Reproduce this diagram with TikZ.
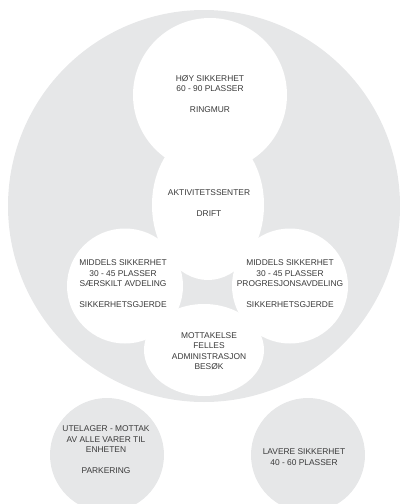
\documentclass[tikz,border=0pt]{standalone}
\usepackage{fontspec}
\setmainfont{Liberation Sans}
\definecolor{zonegrey}{HTML}{E6E7E8}
\definecolor{zonetext}{HTML}{3A3A3A}
\tikzset{zonelabel/.style={align=center,text=zonetext,inner sep=0pt,font=\fontsize{8.4}{10.5}\selectfont}}

\begin{document}
\begin{tikzpicture}[x=1pt,y=-1pt]
	\useasboundingbox (0,0) rectangle (400,504);
	% outer area
	\fill[zonegrey] (204,206) circle[radius=196pt];
	% main building zones
	\fill[white] (210,95) circle[radius=77pt];
	\fill[white] (208,205) ellipse[x radius=56pt,y radius=75pt];
	\fill[white] (125,286) ellipse[x radius=58pt,y radius=57.5pt];
	\fill[white] (290,286) ellipse[x radius=58pt,y radius=57.5pt];
	\fill[white] (204,350) ellipse[x radius=60pt,y radius=46pt];
	% separate units
	\fill[zonegrey] (107,455) circle[radius=57pt];
	\fill[zonegrey] (308,455) circle[radius=57pt];

	\node[zonelabel] (hoy) at (210,94) {HØY SIKKERHET\\60 - 90 PLASSER\\[10.5pt]RINGMUR};
	\node[zonelabel] (aktiv) at (209,203) {AKTIVITETSSENTER\\[10.5pt]DRIFT};
	\node[zonelabel] (middelsV) at (123,284) {MIDDELS SIKKERHET\\30 - 45 PLASSER\\SÆRSKILT AVDELING\\[10.5pt]SIKKERHETSGJERDE};
	\node[zonelabel] (middelsH) at (290,284) {MIDDELS SIKKERHET\\30 - 45 PLASSER\\PROGRESJONSAVDELING\\[10.5pt]SIKKERHETSGJERDE};
	\node[zonelabel] (mottak) at (209,351) {MOTTAKELSE\\FELLES\\ADMINISTRASJON\\BESØK};
	\node[zonelabel] (utelager) at (106,450) {UTELAGER - MOTTAK\\AV ALLE VARER TIL\\ENHETEN\\[10.5pt]PARKERING};
	\node[zonelabel] (lavere) at (304,457) {LAVERE SIKKERHET\\40 - 60 PLASSER};
\end{tikzpicture}
\end{document}
